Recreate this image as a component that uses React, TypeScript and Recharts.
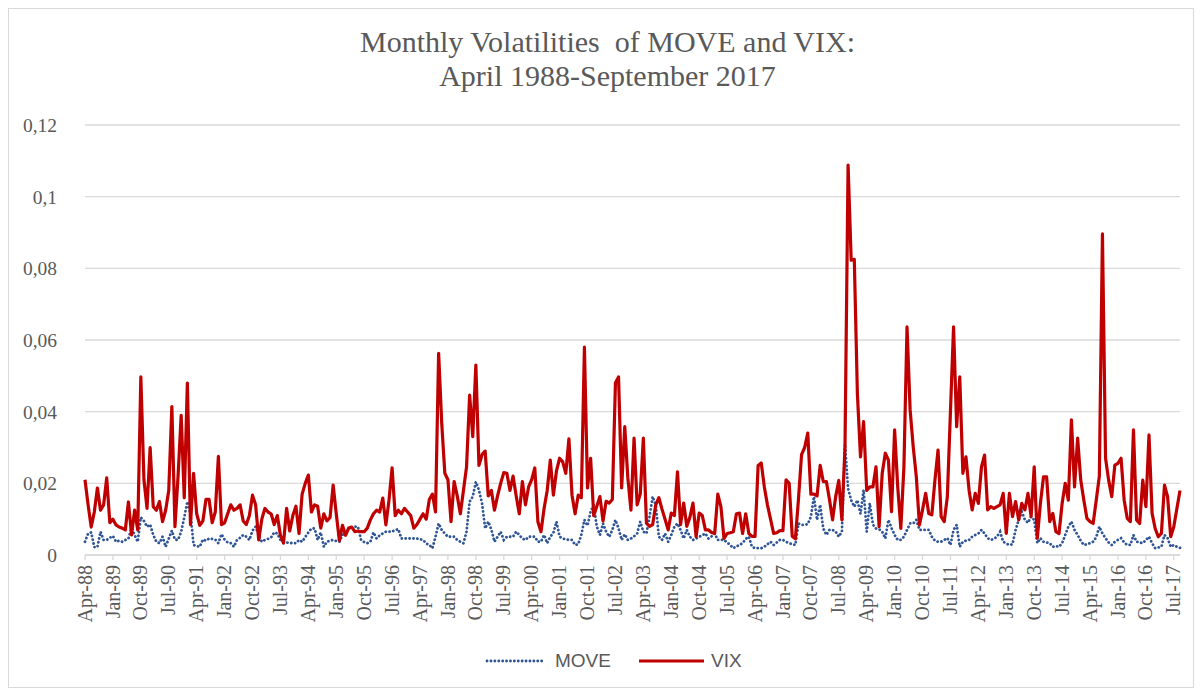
import { LineChart, Line, XAxis, YAxis, CartesianGrid, Legend } from 'recharts'

// monthly volatilities, April 1988 - September 2017 (354 months)
const MONTH_NAMES = ['Jan', 'Feb', 'Mar', 'Apr', 'May', 'Jun', 'Jul', 'Aug', 'Sep', 'Oct', 'Nov', 'Dec']
const START_YEAR = 1988
const START_MONTH = 3 // April

const MOVE = [
  0.0037, 0.006, 0.0063, 0.0022, 0.0022, 0.0065, 0.0042, 0.0042, 0.0048, 0.0053, 0.0037, 0.004,
  0.0037, 0.0042, 0.0046, 0.0075, 0.0056, 0.0037, 0.0105, 0.0095, 0.0079, 0.0085, 0.0056, 0.0037,
  0.0033, 0.0051, 0.0023, 0.0046, 0.0068, 0.0043, 0.0042, 0.0065, 0.0105, 0.0149, 0.0115, 0.0028,
  0.0025, 0.0023, 0.0043, 0.004, 0.0046, 0.0045, 0.0043, 0.0033, 0.0058, 0.0043, 0.0035, 0.0033,
  0.0023, 0.0042, 0.0048, 0.0056, 0.0051, 0.0042, 0.0068, 0.0079, 0.0055, 0.0037, 0.0042, 0.0045,
  0.0049, 0.0063, 0.006, 0.0042, 0.0038, 0.0035, 0.0033, 0.0034, 0.0033, 0.0042, 0.0037, 0.005,
  0.0063, 0.0074, 0.0074, 0.0042, 0.0063, 0.0023, 0.0037, 0.004, 0.0042, 0.0039, 0.0037, 0.0056,
  0.0063, 0.0074, 0.0077, 0.0079, 0.0079, 0.0042, 0.0036, 0.0033, 0.0037, 0.0063, 0.0046, 0.0055,
  0.006, 0.0065, 0.0065, 0.0065, 0.007, 0.0072, 0.0046, 0.0046, 0.0046, 0.0046, 0.0046, 0.0046,
  0.0044, 0.0042, 0.0032, 0.0028, 0.0019, 0.0051, 0.0088, 0.007, 0.006, 0.0051, 0.0051, 0.0051,
  0.0042, 0.0037, 0.0033, 0.0065, 0.0149, 0.0163, 0.0204, 0.0181, 0.0144, 0.0074, 0.0093, 0.0071,
  0.0037, 0.0051, 0.0065, 0.0042, 0.0051, 0.0051, 0.0051, 0.0065, 0.0056, 0.0046, 0.0042, 0.0051,
  0.0051, 0.0051, 0.0037, 0.0037, 0.0056, 0.0033, 0.0051, 0.0062, 0.0093, 0.0051, 0.0046, 0.0044,
  0.0042, 0.0042, 0.0028, 0.003, 0.0056, 0.0098, 0.0082, 0.0121, 0.0139, 0.0079, 0.0056, 0.0088,
  0.0065, 0.0051, 0.007, 0.0098, 0.0074, 0.0042, 0.0058, 0.0042, 0.0046, 0.0052, 0.006, 0.0093,
  0.0065, 0.006, 0.0107, 0.0163, 0.0139, 0.0051, 0.0042, 0.006, 0.0037, 0.0056, 0.0079, 0.0088,
  0.007, 0.0046, 0.007, 0.0051, 0.0042, 0.0046, 0.0051, 0.0055, 0.006, 0.0046, 0.0052, 0.006,
  0.0042, 0.0042, 0.0042, 0.0035, 0.0028, 0.0019, 0.0024, 0.0028, 0.0033, 0.0045, 0.0051, 0.0023,
  0.0019, 0.0019, 0.0019, 0.0023, 0.003, 0.0037, 0.0028, 0.0035, 0.0042, 0.0042, 0.0037, 0.0033,
  0.003, 0.0028, 0.0088, 0.0084, 0.0084, 0.0086, 0.0107, 0.0163, 0.0098, 0.014, 0.0074, 0.0056,
  0.007, 0.007, 0.0065, 0.0051, 0.0065, 0.031, 0.0185, 0.0153, 0.0135, 0.0153, 0.0115, 0.0181,
  0.0065, 0.0144, 0.0085, 0.0074, 0.0072, 0.0065, 0.0046, 0.0098, 0.0075, 0.0056, 0.0042, 0.0042,
  0.0051, 0.007, 0.0088, 0.0088, 0.0098, 0.007, 0.007, 0.007, 0.007, 0.0051, 0.004, 0.0037,
  0.0037, 0.0042, 0.0047, 0.0028, 0.007, 0.0084, 0.0023, 0.0037, 0.004, 0.0042, 0.0051, 0.0056,
  0.006, 0.007, 0.006, 0.0047, 0.0042, 0.0045, 0.0051, 0.0065, 0.0037, 0.0032, 0.0028, 0.003,
  0.007, 0.0098, 0.0121, 0.0098, 0.009, 0.0107, 0.0098, 0.0033, 0.0047, 0.0037, 0.0035, 0.0033,
  0.0023, 0.0025, 0.0023, 0.0033, 0.0056, 0.0079, 0.0093, 0.007, 0.0056, 0.004, 0.0028, 0.003,
  0.0033, 0.0037, 0.005, 0.0079, 0.006, 0.0047, 0.0035, 0.0028, 0.0037, 0.0042, 0.0047, 0.0035,
  0.0028, 0.0028, 0.0056, 0.0037, 0.0035, 0.0033, 0.0042, 0.0051, 0.0033, 0.0019, 0.0021, 0.0023,
  0.0056, 0.0047, 0.0023, 0.0028, 0.0023, 0.002,
]

const VIX = [
  0.021, 0.014, 0.0078, 0.012, 0.0187, 0.0125, 0.014, 0.0215, 0.009, 0.01, 0.0084, 0.0078,
  0.0075, 0.007, 0.0148, 0.0056, 0.0125, 0.007, 0.0497, 0.021, 0.013, 0.03, 0.0135, 0.0125,
  0.0149, 0.0093, 0.0125, 0.018, 0.0414, 0.0079, 0.022, 0.039, 0.016, 0.048, 0.0085, 0.0228,
  0.0115, 0.0083, 0.0095, 0.0155, 0.0155, 0.009, 0.012, 0.0275, 0.0085, 0.009, 0.0115, 0.014,
  0.0125, 0.013, 0.014, 0.0095, 0.0085, 0.011, 0.0167, 0.014, 0.0042, 0.01, 0.013, 0.012,
  0.0115, 0.0085, 0.011, 0.0055, 0.0033, 0.013, 0.0067, 0.011, 0.0136, 0.006, 0.017, 0.02,
  0.0223, 0.012, 0.014, 0.0136, 0.0075, 0.0115, 0.0095, 0.0105, 0.0195, 0.0115, 0.004, 0.0083,
  0.0055, 0.0075, 0.0078, 0.0065, 0.0067, 0.0065, 0.0065, 0.0075, 0.0098, 0.0115, 0.0125, 0.012,
  0.0159, 0.0084, 0.0153, 0.0243, 0.011, 0.0125, 0.0115, 0.013, 0.012, 0.011, 0.0075, 0.0085,
  0.01, 0.0115, 0.01, 0.0155, 0.017, 0.012, 0.0563, 0.0368, 0.0228, 0.021, 0.0093, 0.0205,
  0.0165, 0.0115, 0.018, 0.0246, 0.0446, 0.033, 0.053, 0.025, 0.028, 0.029, 0.0165, 0.018,
  0.0125, 0.0165, 0.02, 0.023, 0.0228, 0.018, 0.022, 0.0165, 0.0115, 0.0205, 0.014, 0.019,
  0.021, 0.0243, 0.0093, 0.0065, 0.013, 0.018, 0.0265, 0.0167, 0.0235, 0.027, 0.026, 0.0228,
  0.0324, 0.0167, 0.0115, 0.0167, 0.016, 0.058, 0.0187, 0.027, 0.011, 0.0136, 0.0163, 0.0095,
  0.015, 0.0145, 0.0155, 0.048, 0.0497, 0.0187, 0.0358, 0.0215, 0.0125, 0.0326, 0.014, 0.017,
  0.0326, 0.0089, 0.008, 0.0085, 0.014, 0.016, 0.0128, 0.01, 0.007, 0.0117, 0.011, 0.0232,
  0.0085, 0.0145, 0.008, 0.0105, 0.0145, 0.0051, 0.0117, 0.011, 0.007, 0.007, 0.0063, 0.006,
  0.017, 0.0135, 0.0046, 0.006, 0.0062, 0.0065, 0.0115, 0.0117, 0.006, 0.0115, 0.006, 0.0052,
  0.0052, 0.025, 0.0257, 0.019, 0.014, 0.01, 0.006, 0.0062, 0.0068, 0.0068, 0.021, 0.02,
  0.0052, 0.0045, 0.0155, 0.028, 0.03, 0.034, 0.017, 0.017, 0.0165, 0.025, 0.0205, 0.0205,
  0.0155, 0.0098, 0.0163, 0.0208, 0.0098, 0.03, 0.1088, 0.0823, 0.0825, 0.045, 0.0274, 0.0372,
  0.018, 0.019, 0.019, 0.0246, 0.0079, 0.0228, 0.0284, 0.0265, 0.0121, 0.0349, 0.019, 0.0074,
  0.0246, 0.0637, 0.0405, 0.0302, 0.0218, 0.0084, 0.0126, 0.0172, 0.0116, 0.0112, 0.0209, 0.0293,
  0.0107, 0.0093, 0.0163, 0.04, 0.0637, 0.0358, 0.0497, 0.0228, 0.0274, 0.0181, 0.0126, 0.0172,
  0.0144, 0.0246, 0.0279, 0.0126, 0.0135, 0.013, 0.0135, 0.014, 0.0172, 0.006, 0.0172, 0.0107,
  0.0149, 0.0098, 0.0144, 0.0126, 0.0172, 0.0107, 0.0246, 0.0047, 0.0144, 0.0218, 0.0218, 0.0093,
  0.0116, 0.0065, 0.006, 0.0144, 0.02, 0.0153, 0.0377, 0.019, 0.0326, 0.0209, 0.0153, 0.0102,
  0.0093, 0.0088, 0.0153, 0.022, 0.0896, 0.027, 0.0209, 0.0163, 0.0251, 0.0256, 0.027, 0.0153,
  0.0102, 0.0093, 0.0349, 0.0098, 0.0088, 0.0209, 0.0135, 0.0335, 0.0116, 0.0074, 0.0051, 0.006,
  0.0195, 0.0163, 0.0051, 0.0079, 0.013, 0.018,
]

const Y_TICKS = [0, 0.02, 0.04, 0.06, 0.08, 0.1, 0.12]
const Y_TICK_LABELS = ['0', '0,02', '0,04', '0,06', '0,08', '0,1', '0,12']

const MOVE_COLOR = '#2F5597'
const VIX_COLOR = '#C00000'
const GRID_COLOR = '#D9D9D9'
const TEXT_COLOR = '#595959'
const SERIF = "'Liberation Serif', 'Times New Roman', serif"
const SANS = "'Liberation Sans', Arial, sans-serif"

const months: string[] = MOVE.map((_, i) => {
  const m = START_MONTH + i
  const year = START_YEAR + Math.floor(m / 12)
  return `${MONTH_NAMES[m % 12]}-${String(year % 100).padStart(2, '0')}`
})

const data = months.map((month, i) => ({ month, MOVE: MOVE[i], VIX: VIX[i] }))

function MonthTick({ x, y, payload }: any) {
  return (
    <text
      x={x}
      y={y}
      transform={`rotate(-90 ${x} ${y})`}
      textAnchor="end"
      dy="0.33em"
      fill={TEXT_COLOR}
      fontSize={20}
      fontFamily={SERIF}
    >
      {payload.value}
    </text>
  )
}

const renderLegend = () => (
  <div
    style={{
      display: 'flex',
      alignItems: 'center',
      paddingLeft: 476,
      height: 40,
      fontFamily: SANS,
      fontSize: 19,
      color: TEXT_COLOR,
    }}
  >
    <svg width={60} height={10}>
      <line x1={2} y1={5} x2={58} y2={5} stroke={MOVE_COLOR} strokeWidth={2.8} strokeDasharray="0.1 3.8" strokeLinecap="round" />
    </svg>
    <span style={{ marginLeft: 10 }}>MOVE</span>
    <svg width={65} height={10} style={{ marginLeft: 28 }}>
      <line x1={0} y1={5} x2={65} y2={5} stroke={VIX_COLOR} strokeWidth={3.2} />
    </svg>
    <span style={{ marginLeft: 7 }}>VIX</span>
  </div>
)

export default function App() {
  return (
    <div
      style={{
        position: 'relative',
        width: 1184,
        height: 678,
        border: `1px solid ${GRID_COLOR}`,
        background: '#fff',
      }}
    >
      <div
        style={{
          position: 'absolute',
          top: 16,
          left: 0,
          width: 1184,
          paddingLeft: 13,
          boxSizing: 'border-box',
          textAlign: 'center',
          fontFamily: SERIF,
          fontSize: 30,
          lineHeight: '34px',
          color: TEXT_COLOR,
          whiteSpace: 'pre',
        }}
      >
        {'Monthly Volatilities  of MOVE and VIX:\nApril 1988-September 2017'}
      </div>
      <LineChart width={1184} height={678} data={data} margin={{ top: 116, right: 13, left: 0, bottom: 6 }}>
        <CartesianGrid vertical={false} stroke={GRID_COLOR} strokeWidth={1.3} />
        <XAxis
          dataKey="month"
          interval={8}
          height={86}
          tick={<MonthTick />}
          tickSize={5}
          tickMargin={5}
          tickLine={{ stroke: GRID_COLOR, strokeWidth: 1.3 }}
          axisLine={{ stroke: GRID_COLOR, strokeWidth: 1.3 }}
        />
        <YAxis
          domain={[0, 0.12]}
          ticks={Y_TICKS}
          width={76}
          tickSize={0}
          tickMargin={28}
          axisLine={false}
          tickLine={false}
          tickFormatter={(v: number) => Y_TICK_LABELS[Y_TICKS.indexOf(v)] ?? String(v)}
          tick={{ fill: TEXT_COLOR, fontSize: 19.5, fontFamily: SERIF }}
        />
        <Legend verticalAlign="bottom" height={40} content={renderLegend} />
        <Line
          type="linear"
          dataKey="MOVE"
          stroke={MOVE_COLOR}
          strokeWidth={2.8}
          strokeDasharray="0.1 3.8"
          strokeLinecap="round"
          dot={false}
          activeDot={false}
          isAnimationActive={false}
        />
        <Line
          type="linear"
          dataKey="VIX"
          stroke={VIX_COLOR}
          strokeWidth={3.2}
          strokeLinejoin="round"
          dot={false}
          activeDot={false}
          isAnimationActive={false}
        />
      </LineChart>
    </div>
  )
}
